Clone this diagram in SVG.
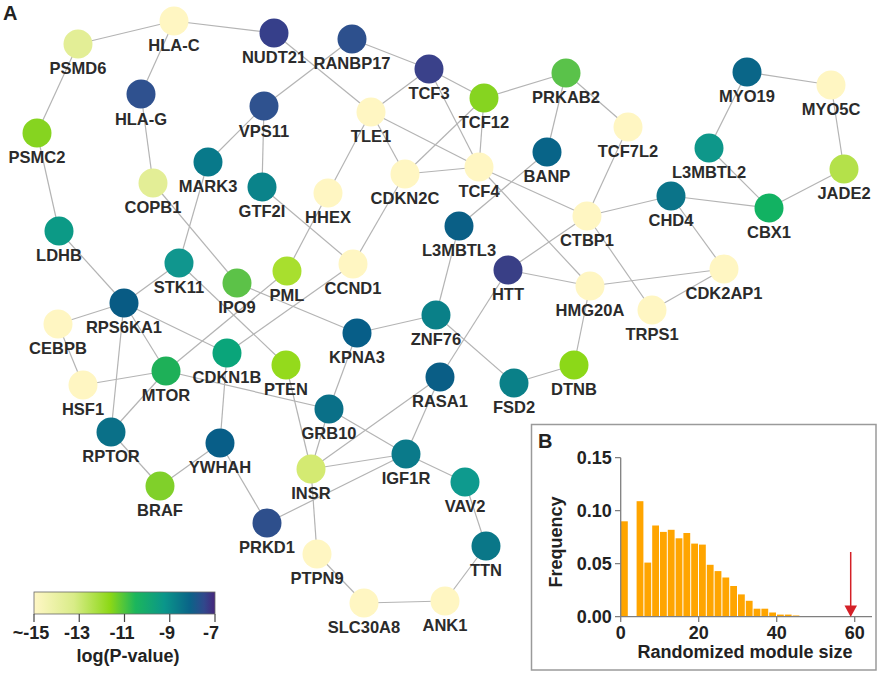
<svg xmlns="http://www.w3.org/2000/svg" width="879" height="673" viewBox="0 0 879 673">
<defs>
<style>
.e line{stroke:#b4b4b4;stroke-width:1.2}
.n circle{stroke:none}
.n text{font-family:"Liberation Sans",Arial,sans-serif;font-weight:bold;font-size:16.5px;fill:#2b2b2b;text-anchor:middle}
.t{font-family:"Liberation Sans",Arial,sans-serif;font-weight:bold;fill:#222}
.ax{stroke:#7f7f7f;stroke-width:1.3;fill:none}
.bar{fill:#FFA500}
</style>
<linearGradient id="cb" x1="0" y1="0" x2="1" y2="0">
<stop offset="0" stop-color="#FFF7C6"/>
<stop offset="0.22" stop-color="#D9EC88"/>
<stop offset="0.42" stop-color="#8CD816"/>
<stop offset="0.56" stop-color="#1CB65C"/>
<stop offset="0.72" stop-color="#0A968A"/>
<stop offset="0.86" stop-color="#0A6488"/>
<stop offset="0.94" stop-color="#31488C"/>
<stop offset="1" stop-color="#46267C"/>
</linearGradient>
</defs>
<rect width="879" height="673" fill="#fff"/>
<text class="t" x="3" y="20" font-size="20">A</text>
<g id="connectors" class="e">
<line x1="78" y1="44" x2="174" y2="21"/>
<line x1="174" y1="21" x2="274" y2="33"/>
<line x1="174" y1="21" x2="141" y2="94"/>
<line x1="78" y1="44" x2="37" y2="133"/>
<line x1="37" y1="133" x2="59" y2="231"/>
<line x1="141" y1="94" x2="153" y2="183"/>
<line x1="274" y1="33" x2="371" y2="112"/>
<line x1="352" y1="39" x2="264" y2="106"/>
<line x1="352" y1="39" x2="429" y2="69"/>
<line x1="429" y1="69" x2="371" y2="112"/>
<line x1="429" y1="69" x2="484" y2="98"/>
<line x1="429" y1="69" x2="479" y2="167"/>
<line x1="484" y1="98" x2="566" y2="73"/>
<line x1="484" y1="98" x2="479" y2="167"/>
<line x1="484" y1="98" x2="405" y2="174"/>
<line x1="371" y1="112" x2="479" y2="167"/>
<line x1="371" y1="112" x2="405" y2="174"/>
<line x1="371" y1="112" x2="328" y2="193"/>
<line x1="405" y1="174" x2="479" y2="167"/>
<line x1="405" y1="174" x2="353" y2="264"/>
<line x1="566" y1="73" x2="547" y2="152"/>
<line x1="566" y1="73" x2="628" y2="127"/>
<line x1="628" y1="127" x2="587" y2="216"/>
<line x1="479" y1="167" x2="587" y2="216"/>
<line x1="479" y1="167" x2="590" y2="286"/>
<line x1="547" y1="152" x2="459" y2="226"/>
<line x1="587" y1="216" x2="671" y2="196"/>
<line x1="587" y1="216" x2="508" y2="270"/>
<line x1="587" y1="216" x2="652" y2="310"/>
<line x1="508" y1="270" x2="590" y2="286"/>
<line x1="590" y1="286" x2="724" y2="269"/>
<line x1="652" y1="310" x2="724" y2="269"/>
<line x1="671" y1="196" x2="724" y2="269"/>
<line x1="671" y1="196" x2="769" y2="208"/>
<line x1="709" y1="148" x2="769" y2="208"/>
<line x1="747" y1="72" x2="709" y2="148"/>
<line x1="747" y1="72" x2="831" y2="85"/>
<line x1="831" y1="85" x2="844" y2="169"/>
<line x1="844" y1="169" x2="769" y2="208"/>
<line x1="459" y1="226" x2="436" y2="315"/>
<line x1="508" y1="270" x2="440" y2="377"/>
<line x1="436" y1="315" x2="357" y2="333"/>
<line x1="436" y1="315" x2="514" y2="383"/>
<line x1="514" y1="383" x2="574" y2="365"/>
<line x1="590" y1="286" x2="574" y2="365"/>
<line x1="237" y1="283" x2="357" y2="333"/>
<line x1="357" y1="333" x2="329" y2="409"/>
<line x1="353" y1="264" x2="227" y2="353"/>
<line x1="287" y1="271" x2="166" y2="371"/>
<line x1="328" y1="193" x2="287" y2="271"/>
<line x1="262" y1="187" x2="353" y2="264"/>
<line x1="264" y1="106" x2="262" y2="187"/>
<line x1="264" y1="106" x2="208" y2="162"/>
<line x1="208" y1="162" x2="179" y2="263"/>
<line x1="153" y1="183" x2="237" y2="283"/>
<line x1="59" y1="231" x2="124" y2="303"/>
<line x1="179" y1="263" x2="124" y2="303"/>
<line x1="179" y1="263" x2="286" y2="365"/>
<line x1="124" y1="303" x2="58" y2="324"/>
<line x1="124" y1="303" x2="166" y2="371"/>
<line x1="124" y1="303" x2="227" y2="353"/>
<line x1="124" y1="303" x2="111" y2="432"/>
<line x1="58" y1="324" x2="83" y2="385"/>
<line x1="83" y1="385" x2="166" y2="371"/>
<line x1="166" y1="371" x2="111" y2="432"/>
<line x1="166" y1="371" x2="329" y2="409"/>
<line x1="227" y1="353" x2="220" y2="443"/>
<line x1="286" y1="365" x2="311" y2="469"/>
<line x1="329" y1="409" x2="311" y2="469"/>
<line x1="329" y1="409" x2="406" y2="454"/>
<line x1="440" y1="377" x2="311" y2="469"/>
<line x1="440" y1="377" x2="406" y2="454"/>
<line x1="311" y1="469" x2="406" y2="454"/>
<line x1="406" y1="454" x2="267" y2="523"/>
<line x1="406" y1="454" x2="465" y2="482"/>
<line x1="465" y1="482" x2="486" y2="546"/>
<line x1="486" y1="546" x2="445" y2="601"/>
<line x1="445" y1="601" x2="364" y2="603"/>
<line x1="364" y1="603" x2="317" y2="554"/>
<line x1="317" y1="554" x2="311" y2="469"/>
<line x1="111" y1="432" x2="160" y2="486"/>
<line x1="160" y1="486" x2="220" y2="443"/>
<line x1="220" y1="443" x2="267" y2="523"/>
</g>
<g id="n-HLA-C" class="n"><circle cx="174" cy="21" r="14.5" fill="#FFF6C2"/><text x="174" y="51">HLA-C</text></g>
<g id="n-PSMD6" class="n"><circle cx="78" cy="44" r="14.5" fill="#E3EE96"/><text x="78" y="74">PSMD6</text></g>
<g id="n-NUDT21" class="n"><circle cx="274" cy="33" r="14.5" fill="#363F8A"/><text x="274" y="63">NUDT21</text></g>
<g id="n-RANBP17" class="n"><circle cx="352" cy="39" r="14.5" fill="#2D508D"/><text x="352" y="69">RANBP17</text></g>
<g id="n-TCF3" class="n"><circle cx="429" cy="69" r="14.5" fill="#3A418A"/><text x="429" y="99">TCF3</text></g>
<g id="n-TCF12" class="n"><circle cx="484" cy="98" r="14.5" fill="#86D420"/><text x="484" y="128">TCF12</text></g>
<g id="n-PRKAB2" class="n"><circle cx="566" cy="73" r="14.5" fill="#5AC24A"/><text x="566" y="103">PRKAB2</text></g>
<g id="n-MYO19" class="n"><circle cx="747" cy="72" r="14.5" fill="#0A6688"/><text x="747" y="102">MYO19</text></g>
<g id="n-MYO5C" class="n"><circle cx="831" cy="85" r="14.5" fill="#FFF6C2"/><text x="831" y="115">MYO5C</text></g>
<g id="n-HLA-G" class="n"><circle cx="141" cy="94" r="14.5" fill="#2F518F"/><text x="141" y="125">HLA-G</text></g>
<g id="n-VPS11" class="n"><circle cx="264" cy="106" r="14.5" fill="#2F528F"/><text x="264" y="137">VPS11</text></g>
<g id="n-TLE1" class="n"><circle cx="371" cy="112" r="14.5" fill="#FFF6C2"/><text x="371" y="142">TLE1</text></g>
<g id="n-TCF7L2" class="n"><circle cx="628" cy="127" r="14.5" fill="#FFF6C2"/><text x="628" y="157">TCF7L2</text></g>
<g id="n-PSMC2" class="n"><circle cx="37" cy="133" r="14.5" fill="#86D420"/><text x="37" y="163">PSMC2</text></g>
<g id="n-L3MBTL2" class="n"><circle cx="709" cy="148" r="14.5" fill="#0E978A"/><text x="709" y="178">L3MBTL2</text></g>
<g id="n-BANP" class="n"><circle cx="547" cy="152" r="14.5" fill="#086488"/><text x="547" y="182">BANP</text></g>
<g id="n-MARK3" class="n"><circle cx="208" cy="162" r="14.5" fill="#08798A"/><text x="208" y="192">MARK3</text></g>
<g id="n-TCF4" class="n"><circle cx="479" cy="167" r="14.5" fill="#FFF6C2"/><text x="479" y="197">TCF4</text></g>
<g id="n-JADE2" class="n"><circle cx="844" cy="169" r="14.5" fill="#B4E14A"/><text x="844" y="199">JADE2</text></g>
<g id="n-CDKN2C" class="n"><circle cx="405" cy="174" r="14.5" fill="#FFF6C2"/><text x="405" y="204">CDKN2C</text></g>
<g id="n-COPB1" class="n"><circle cx="153" cy="183" r="14.5" fill="#E3EE96"/><text x="153" y="213">COPB1</text></g>
<g id="n-GTF2I" class="n"><circle cx="262" cy="187" r="14.5" fill="#0A838A"/><text x="262" y="217">GTF2I</text></g>
<g id="n-HHEX" class="n"><circle cx="328" cy="193" r="14.5" fill="#FFF6C2"/><text x="328" y="223">HHEX</text></g>
<g id="n-CHD4" class="n"><circle cx="671" cy="196" r="14.5" fill="#0B7489"/><text x="671" y="226">CHD4</text></g>
<g id="n-CBX1" class="n"><circle cx="769" cy="208" r="14.5" fill="#12B262"/><text x="769" y="238">CBX1</text></g>
<g id="n-CTBP1" class="n"><circle cx="587" cy="216" r="14.5" fill="#FFF6C2"/><text x="587" y="246">CTBP1</text></g>
<g id="n-L3MBTL3" class="n"><circle cx="459" cy="226" r="14.5" fill="#0A5F86"/><text x="459" y="256">L3MBTL3</text></g>
<g id="n-LDHB" class="n"><circle cx="59" cy="231" r="14.5" fill="#0C9A86"/><text x="59" y="261">LDHB</text></g>
<g id="n-STK11" class="n"><circle cx="179" cy="263" r="14.5" fill="#10968E"/><text x="179" y="293">STK11</text></g>
<g id="n-CCND1" class="n"><circle cx="353" cy="264" r="14.5" fill="#FFF6C2"/><text x="353" y="294">CCND1</text></g>
<g id="n-CDK2AP1" class="n"><circle cx="724" cy="269" r="14.5" fill="#FFF6C2"/><text x="724" y="299">CDK2AP1</text></g>
<g id="n-HTT" class="n"><circle cx="508" cy="270" r="14.5" fill="#393F86"/><text x="508" y="300">HTT</text></g>
<g id="n-PML" class="n"><circle cx="287" cy="271" r="14.5" fill="#A8DF2E"/><text x="287" y="301">PML</text></g>
<g id="n-IPO9" class="n"><circle cx="237" cy="283" r="14.5" fill="#5CC248"/><text x="237" y="313">IPO9</text></g>
<g id="n-HMG20A" class="n"><circle cx="590" cy="286" r="14.5" fill="#FFF6C2"/><text x="590" y="316">HMG20A</text></g>
<g id="n-RPS6KA1" class="n"><circle cx="124" cy="303" r="14.5" fill="#085B84"/><text x="124" y="333">RPS6KA1</text></g>
<g id="n-TRPS1" class="n"><circle cx="652" cy="310" r="14.5" fill="#FFF6C2"/><text x="652" y="340">TRPS1</text></g>
<g id="n-ZNF76" class="n"><circle cx="436" cy="315" r="14.5" fill="#0A8088"/><text x="436" y="345">ZNF76</text></g>
<g id="n-CEBPB" class="n"><circle cx="58" cy="324" r="14.5" fill="#FFF6C2"/><text x="58" y="354">CEBPB</text></g>
<g id="n-KPNA3" class="n"><circle cx="357" cy="333" r="14.5" fill="#075E88"/><text x="357" y="363">KPNA3</text></g>
<g id="n-CDKN1B" class="n"><circle cx="227" cy="353" r="14.5" fill="#0AA57A"/><text x="227" y="383">CDKN1B</text></g>
<g id="n-PTEN" class="n"><circle cx="286" cy="365" r="14.5" fill="#94DA1C"/><text x="286" y="395">PTEN</text></g>
<g id="n-DTNB" class="n"><circle cx="574" cy="365" r="14.5" fill="#8CD818"/><text x="574" y="395">DTNB</text></g>
<g id="n-MTOR" class="n"><circle cx="166" cy="371" r="14.5" fill="#1EB058"/><text x="166" y="401">MTOR</text></g>
<g id="n-RASA1" class="n"><circle cx="440" cy="377" r="14.5" fill="#0A5E86"/><text x="440" y="407">RASA1</text></g>
<g id="n-FSD2" class="n"><circle cx="514" cy="383" r="14.5" fill="#0A8088"/><text x="514" y="413">FSD2</text></g>
<g id="n-HSF1" class="n"><circle cx="83" cy="385" r="14.5" fill="#FFF6C2"/><text x="83" y="415">HSF1</text></g>
<g id="n-GRB10" class="n"><circle cx="329" cy="409" r="14.5" fill="#0A7088"/><text x="329" y="439">GRB10</text></g>
<g id="n-RPTOR" class="n"><circle cx="111" cy="432" r="14.5" fill="#0A7088"/><text x="111" y="462">RPTOR</text></g>
<g id="n-YWHAH" class="n"><circle cx="220" cy="443" r="14.5" fill="#085E88"/><text x="220" y="473">YWHAH</text></g>
<g id="n-IGF1R" class="n"><circle cx="406" cy="454" r="14.5" fill="#0A7A8A"/><text x="406" y="484">IGF1R</text></g>
<g id="n-INSR" class="n"><circle cx="311" cy="469" r="14.5" fill="#D4EA72"/><text x="311" y="499">INSR</text></g>
<g id="n-VAV2" class="n"><circle cx="465" cy="482" r="14.5" fill="#0E9A8E"/><text x="465" y="512">VAV2</text></g>
<g id="n-BRAF" class="n"><circle cx="160" cy="486" r="14.5" fill="#80D02A"/><text x="160" y="516">BRAF</text></g>
<g id="n-PRKD1" class="n"><circle cx="267" cy="523" r="14.5" fill="#2E4F8C"/><text x="267" y="553">PRKD1</text></g>
<g id="n-TTN" class="n"><circle cx="486" cy="546" r="14.5" fill="#0A7788"/><text x="486" y="576">TTN</text></g>
<g id="n-PTPN9" class="n"><circle cx="317" cy="554" r="14.5" fill="#FFF6C2"/><text x="317" y="584">PTPN9</text></g>
<g id="n-ANK1" class="n"><circle cx="445" cy="601" r="14.5" fill="#FFF6C2"/><text x="445" y="631">ANK1</text></g>
<g id="n-SLC30A8" class="n"><circle cx="364" cy="603" r="14.5" fill="#FFF6C2"/><text x="364" y="633">SLC30A8</text></g>
<g id="colorbar">
<rect x="34" y="592" width="181" height="22" fill="url(#cb)" stroke="#666" stroke-width="0.8"/>
<g stroke="#444" stroke-width="1.2">
<line x1="34" y1="614" x2="34" y2="622"/>
<line x1="79.25" y1="614" x2="79.25" y2="622"/>
<line x1="124.5" y1="614" x2="124.5" y2="622"/>
<line x1="169.75" y1="614" x2="169.75" y2="622"/>
<line x1="215" y1="614" x2="215" y2="622"/>
</g>
<g class="t" font-size="18" text-anchor="middle">
<text x="31" y="639">~-15</text>
<text x="77" y="639">-13</text>
<text x="122" y="639">-11</text>
<text x="167" y="639">-9</text>
<text x="211" y="639">-7</text>
<text x="128" y="662">log(P-value)</text>
</g>
</g>
<g id="panelB">
<rect x="531.5" y="424.5" width="344.5" height="245.5" fill="#fff" stroke="#9a9a9a" stroke-width="1.5"/>
<text class="t" x="538" y="448" font-size="20">B</text>
<g>
<rect class="bar" x="621" y="521.3" width="6.8" height="95.4"/>
<rect class="bar" x="636.6" y="501.2" width="6.8" height="115.5"/>
<rect class="bar" x="644.4" y="562.6" width="6.8" height="54.1"/>
<rect class="bar" x="652.2" y="525.5" width="6.8" height="91.2"/>
<rect class="bar" x="660" y="531.9" width="6.8" height="84.8"/>
<rect class="bar" x="667.8" y="529.8" width="6.8" height="86.9"/>
<rect class="bar" x="675.6" y="538.3" width="6.8" height="78.4"/>
<rect class="bar" x="683.4" y="533" width="6.8" height="83.7"/>
<rect class="bar" x="691.2" y="543.6" width="6.8" height="73.1"/>
<rect class="bar" x="699" y="544.6" width="6.8" height="72.1"/>
<rect class="bar" x="706.8" y="564.8" width="6.8" height="51.9"/>
<rect class="bar" x="714.6" y="571.1" width="6.8" height="45.6"/>
<rect class="bar" x="722.4" y="577.5" width="6.8" height="39.2"/>
<rect class="bar" x="730.2" y="586" width="6.8" height="30.7"/>
<rect class="bar" x="738" y="594.4" width="6.8" height="22.3"/>
<rect class="bar" x="745.8" y="600.8" width="6.8" height="15.9"/>
<rect class="bar" x="753.6" y="608.7" width="6.8" height="8"/>
<rect class="bar" x="761.4" y="608.7" width="6.8" height="8"/>
<rect class="bar" x="769.2" y="612.5" width="6.8" height="4.2"/>
<rect class="bar" x="777" y="614.6" width="6.8" height="2.1"/>
<rect class="bar" x="784.8" y="614.6" width="6.8" height="2.1"/>
<rect class="bar" x="792.6" y="615.5" width="6.8" height="1.2"/>
<rect class="bar" x="800.4" y="616" width="6.8" height="0.7"/>
<rect class="bar" x="808.2" y="616.1" width="6.8" height="0.6"/>
<rect class="bar" x="816" y="616.2" width="6.8" height="0.5"/>
</g>
<path class="ax" d="M620.7 457.7 V616.7 H872 M615 457.7 H620.7 M615 510.7 H620.7 M615 563.7 H620.7 M615 616.7 H620.7 M620.7 616.7 V622 M698.7 616.7 V622 M776.7 616.7 V622 M854.7 616.7 V622"/>
<g class="t" font-size="18" text-anchor="end">
<text x="611.7" y="464">0.15</text>
<text x="611.7" y="517">0.10</text>
<text x="611.7" y="570">0.05</text>
<text x="611.7" y="623">0.00</text>
</g>
<g class="t" font-size="18" text-anchor="middle">
<text x="620.7" y="639">0</text>
<text x="698.7" y="639">20</text>
<text x="776.7" y="639">40</text>
<text x="854.7" y="639">60</text>
<text x="745" y="658">Randomized module size</text>
<text transform="translate(562,542) rotate(-90)">Frequency</text>
</g>
<line x1="850.7" y1="552" x2="850.7" y2="607" stroke="#D42027" stroke-width="1.5"/>
<polygon points="844.5,605.5 857,605.5 850.7,617" fill="#D42027"/>
</g>
</svg>
